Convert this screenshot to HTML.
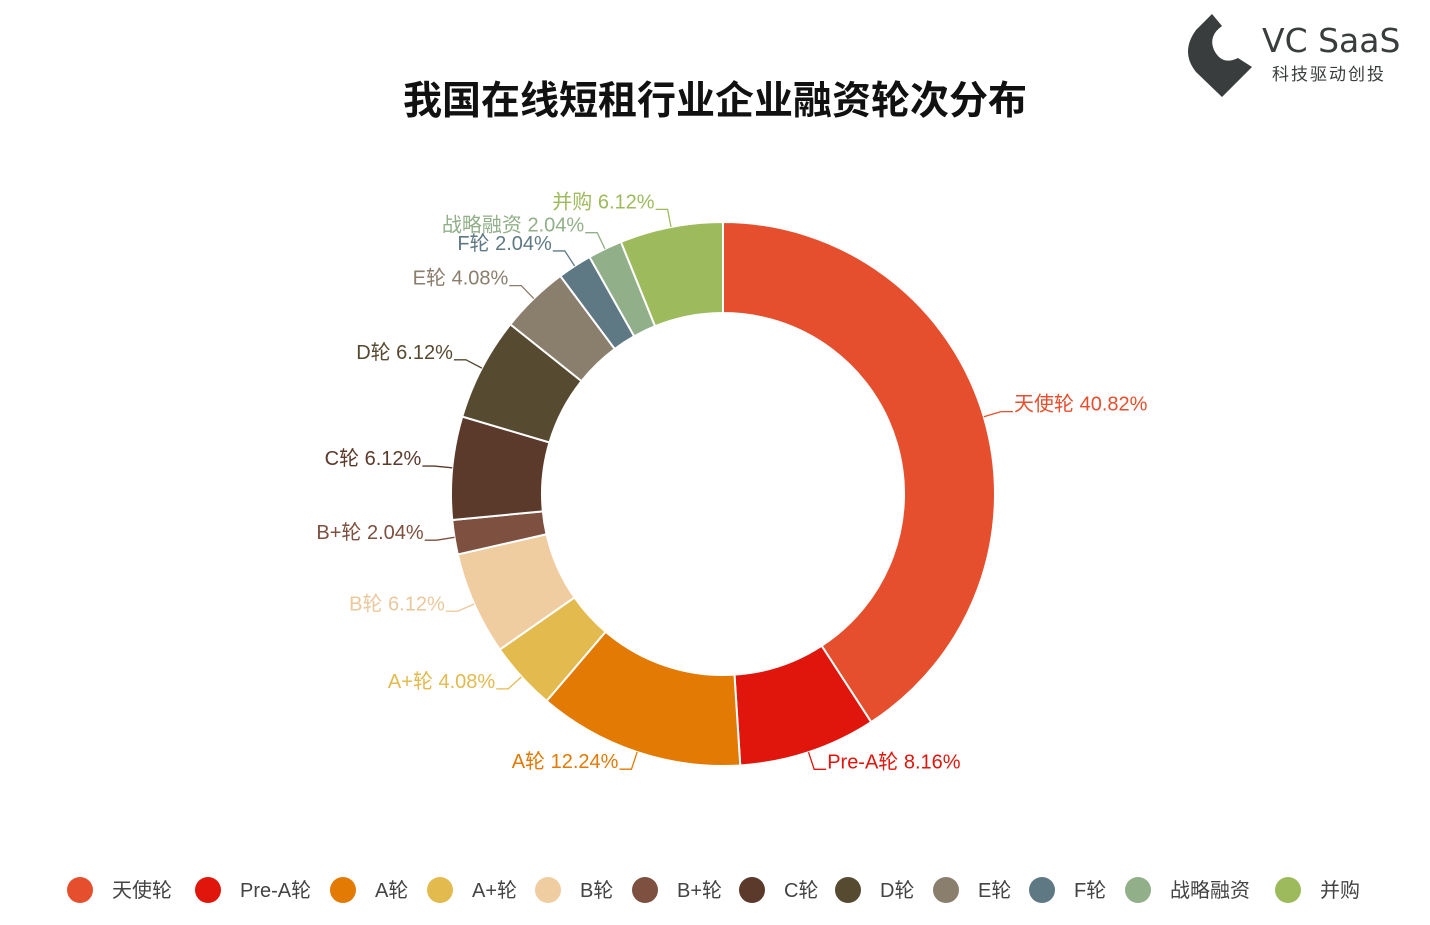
<!DOCTYPE html>
<html><head><meta charset="utf-8">
<style>
body{margin:0;background:#fff;width:1430px;height:920px;overflow:hidden;font-family:"Liberation Sans","Noto Sans CJK SC",sans-serif;}
</style></head>
<body>
<svg id="chart" width="1430" height="920" xmlns="http://www.w3.org/2000/svg">
<text x="715" y="114" text-anchor="middle" font-size="39" font-weight="bold" fill="#111" font-family="Liberation Sans, Noto Sans CJK SC, sans-serif">我国在线短租行业企业融资轮次分布</text>
<g>
<path d="M1212 14 L1196 30 Q1180 52 1196 72 L1222 97 L1252 67 L1238 58 Q1222 66 1214 50 Q1208 36 1222 26 Z" fill="#3a3d3d"/>
<text x="1262" y="52" font-size="33" fill="#3a3d3d" font-family="DejaVu Sans, sans-serif">VC SaaS</text>
<text x="1272" y="80" font-size="17" fill="#3a3d3d" letter-spacing="2" font-family="Noto Sans CJK SC, sans-serif">科技驱动创投</text>
</g>
<g id="slices"></g><g id="labels"></g><g id="legend"></g>
</svg>
<script>
const categories=["天使轮","Pre-A轮","A轮","A+轮","B轮","B+轮","C轮","D轮","E轮","F轮","战略融资","并购"];
const values=[40.82,8.16,12.24,4.08,6.12,2.04,6.12,6.12,4.08,2.04,2.04,6.12];
const colors=["#E64F2E","#E0150B","#E27A04","#E3BA4D","#EFCDA1","#7E5040","#5B3A2C","#564A30","#8A7F6C","#5F7984","#91AF88","#9DBB5C"];
const labelColors=["#E64F2E","#E0150B","#E27A04","#E3BA4D","#EBC89C","#7E5040","#5B3A2C","#564A30","#8A7F6C","#5F7984","#91AF88","#9DBB5C"];
const legendX=[80,208,343,440,548,645,752,848,946,1042,1138,1288];
const NS="http://www.w3.org/2000/svg";
const cx=723,cy=494,R=272,r=181;
const total=values.reduce((a,b)=>a+b,0);
function pt(a,rad){return [cx+rad*Math.sin(a),cy-rad*Math.cos(a)];}
let a0=0;
const sg=document.getElementById('slices'),lg=document.getElementById('labels'),leg=document.getElementById('legend');
values.forEach((v,i)=>{
  const a1=a0+v/total*2*Math.PI;
  const p1=pt(a0,R),p2=pt(a1,R),p3=pt(a1,r),p4=pt(a0,r);
  const big=(a1-a0)>Math.PI?1:0;
  const p=document.createElementNS(NS,'path');
  p.setAttribute('d',`M${p1} A${R},${R} 0 ${big} 1 ${p2} L${p3} A${r},${r} 0 ${big} 0 ${p4} Z`);
  p.setAttribute('fill',colors[i]);p.setAttribute('stroke','#fff');p.setAttribute('stroke-width','2');
  
  
  sg.appendChild(p);
  const m=(a0+a1)/2;
  const s=pt(m,R),e=pt(m,R+18);
  const right=Math.sin(m)>=0;
  const ex=e[0]+(right?12:-12);
  const l=document.createElementNS(NS,'polyline');
  l.setAttribute('points',`${s} ${e} ${ex},${e[1]}`);
  l.setAttribute('fill','none');l.setAttribute('stroke',labelColors[i]);l.setAttribute('stroke-width','1.3');
  
  
  lg.appendChild(l);
  const t=document.createElementNS(NS,'text');
  t.setAttribute('x',ex+(right?1:-1));t.setAttribute('y',e[1]-1);
  t.setAttribute('text-anchor',right?'start':'end');
  t.setAttribute('font-size','20');t.setAttribute('fill',labelColors[i]);
  t.textContent=categories[i]+' '+v.toFixed(2)+'%';
  
  
  lg.appendChild(t);
  a0=a1;
  const c=document.createElementNS(NS,'circle');
  c.setAttribute('cx',legendX[i]);c.setAttribute('cy',890);c.setAttribute('r',13);c.setAttribute('fill',colors[i]);
  
  
  leg.appendChild(c);
  const lt=document.createElementNS(NS,'text');
  lt.setAttribute('x',legendX[i]+32);lt.setAttribute('y',897);lt.setAttribute('font-size','20');lt.setAttribute('fill','#444');
  lt.textContent=categories[i];
  
  
  leg.appendChild(lt);
});
</script>
</body></html>
